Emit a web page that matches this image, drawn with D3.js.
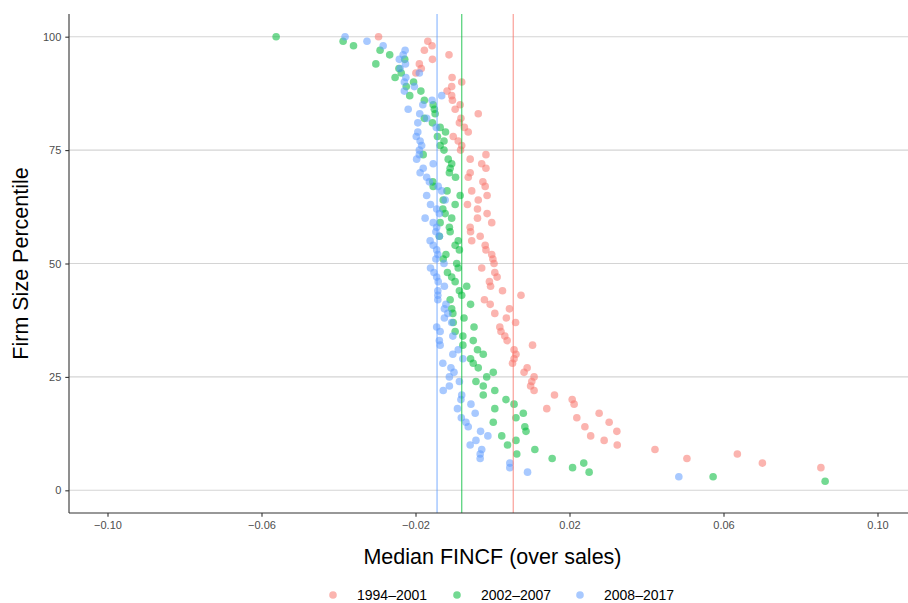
<!DOCTYPE html>
<html>
<head>
<meta charset="utf-8">
<script src="https://cdn.jsdelivr.net/npm/d3@7"></script>
<style>
  html, body { margin: 0; padding: 0; background: #fff; }
  svg { display: block; font-family: "Liberation Sans", Arial, Helvetica, sans-serif; }
</style>
</head>
<body>
<svg id="chart" width="908" height="603"></svg>
<script>
// Period labels and colours
const periods = ["1994–2001", "2002–2007", "2008–2017"];
const colors  = ["#F8766D", "#00BA38", "#619CFF"];

// Median FINCF (over sales) per firm-size percentile, listed from percentile 100 downward.
// Percentiles whose median falls outside the axis range are not listed.
const fincf1994 = [
  -0.0296, -0.0168, -0.0157, -0.0177, -0.0113, -0.0156, -0.0190, -0.0185, -0.0199, -0.0105,
  -0.0080, -0.0106, -0.0118, -0.0106, -0.0104, -0.0084, -0.0097, -0.0037, -0.0082, -0.0086,
  -0.0073, -0.0063, -0.0102, -0.0089, -0.0080, -0.0083, -0.0017, -0.0058, -0.0028, -0.0017,
  -0.0058, -0.0063, -0.0025, -0.0019, -0.0054, -0.0014, -0.0037, -0.0065, -0.0039, -0.0014,
  -0.0039, -0.0002, -0.0058, -0.0057, -0.0032, -0.0054, -0.0019, -0.0017, -0.0002,  0.0001,
   0.0004, -0.0028,  0.0006,  0.0012, -0.0008, -0.0005,  0.0026,  0.0074, -0.0021, -0.0006,
   0.0044,  0.0006,  0.0036,  0.0060,  0.0019,  0.0022,  0.0032,  0.0038,  0.0104,  0.0056,
   0.0061,  0.0056,  0.0052,  0.0090,  0.0082,  0.0108,  0.0102,  0.0099,  0.0108,  0.0161,
   0.0207,  0.0212,  0.0141,  0.0277,  0.0219,  0.0303,  0.0240,  0.0323,  0.0255,  0.0290,
   0.0324,  0.0422,  0.0636,  0.0505,  0.0701,  0.0853
];
const fincf2002 = [
  -0.0562, -0.0388, -0.0361, -0.0292, -0.0267, -0.0228, -0.0303, -0.0243, -0.0237, -0.0253,
  -0.0205, -0.0224, -0.0186, -0.0215, -0.0177, -0.0154, -0.0151, -0.0149, -0.0177, -0.0156,
  -0.0136, -0.0122, -0.0143, -0.0126, -0.0136, -0.0126, -0.0180, -0.0115, -0.0106, -0.0110,
  -0.0112, -0.0096, -0.0155, -0.0154, -0.0118, -0.0084, -0.0128, -0.0097, -0.0129, -0.0123,
  -0.0106, -0.0136, -0.0112, -0.0110, -0.0138, -0.0089, -0.0097, -0.0086, -0.0121, -0.0128,
  -0.0093, -0.0089, -0.0117, -0.0106, -0.0097, -0.0067, -0.0086, -0.0080, -0.0110, -0.0057,
  -0.0106, -0.0103, -0.0074, -0.0102, -0.0048, -0.0097, -0.0077, -0.0050, -0.0077, -0.0039,
  -0.0024, -0.0057, -0.0050, -0.0037,  0.0002, -0.0015, -0.0043, -0.0024,  0.0006, -0.0024,
   0.0035,  0.0056,  0.0006,  0.0080,  0.0061,  0.0002,  0.0084,  0.0087,  0.0024,  0.0061,
   0.0039,  0.0110,  0.0063,  0.0155,  0.0237,  0.0208,  0.0251,  0.0573,  0.0864
];
const fincf2008 = [
  -0.0383, -0.0326, -0.0284, -0.0227, -0.0232, -0.0242, -0.0226, -0.0240, -0.0190, -0.0225,
  -0.0229, -0.0203, -0.0229, -0.0132, -0.0157, -0.0181, -0.0219, -0.0189, -0.0171, -0.0194,
  -0.0146, -0.0194, -0.0198, -0.0188, -0.0184, -0.0190, -0.0190, -0.0197, -0.0154, -0.0180,
  -0.0188, -0.0171, -0.0164, -0.0141, -0.0132, -0.0171, -0.0123, -0.0161, -0.0145, -0.0138,
  -0.0175, -0.0154, -0.0145, -0.0147, -0.0138, -0.0162, -0.0154, -0.0145, -0.0142, -0.0147,
  -0.0126, -0.0161, -0.0152, -0.0145, -0.0141, -0.0125, -0.0142, -0.0142, -0.0142, -0.0121,
  -0.0125, -0.0116, -0.0125, -0.0106, -0.0145, -0.0136, -0.0103, -0.0138, -0.0136, -0.0089,
  -0.0103, -0.0077, -0.0129, -0.0108, -0.0100, -0.0112, -0.0086, -0.0112, -0.0128, -0.0080,
  -0.0082, -0.0056, -0.0091, -0.0045, -0.0081, -0.0069, -0.0063, -0.0031, -0.0012, -0.0043,
  -0.0058, -0.0028, -0.0032, -0.0032,  0.0045,  0.0045,  0.0091,  0.0484
];
const seriesValues = [fincf1994, fincf2002, fincf2008];

// Period-wide reference levels drawn as vertical lines
const refLines = [0.0054, -0.0080, -0.0144];

// Axis ticks
const xTicks = [-0.10, -0.06, -0.02, 0.02, 0.06, 0.10];
const yTicks = [0, 25, 50, 75, 100];

const svg = d3.select("#chart");
const panel = { left: 69, top: 14, right: 916, bottom: 513 };

const x = d3.scaleLinear().domain([-0.11, 0.11]).range([panel.left, panel.right]);
const y = d3.scaleLinear().domain([-5, 105]).range([panel.bottom, panel.top]);

// Clip the plotting area to the panel
svg.append("defs").append("clipPath").attr("id", "panel-clip")
  .append("rect")
  .attr("x", panel.left).attr("y", panel.top)
  .attr("width", panel.right - panel.left).attr("height", panel.bottom - panel.top);

// Horizontal grid lines
svg.append("g")
  .selectAll("line").data(yTicks).join("line")
  .attr("x1", panel.left).attr("x2", panel.right)
  .attr("y1", d => y(d)).attr("y2", d => y(d))
  .attr("stroke", "#d4d4d4").attr("stroke-width", 1.1);

// Build points from the value arrays
const points = [];
seriesValues.forEach((vals, s) => {
  vals.forEach((v, i) => points.push({ s, pct: 100 - i, v }));
});

const plot = svg.append("g").attr("clip-path", "url(#panel-clip)");

plot.append("g")
  .selectAll("circle").data(points).join("circle")
  .attr("cx", d => x(d.v))
  .attr("cy", d => y(d.pct))
  .attr("r", 3.8)
  .attr("fill", d => colors[d.s])
  .attr("fill-opacity", 0.55);

plot.append("g")
  .selectAll("line").data(refLines).join("line")
  .attr("x1", d => x(d)).attr("x2", d => x(d))
  .attr("y1", panel.top).attr("y2", panel.bottom)
  .attr("stroke", (d, i) => colors[i])
  .attr("stroke-opacity", 0.6)
  .attr("stroke-width", 1.4);

// Axes
const fmtX = d => d3.format(".2f")(d).replace("-", "\u2212");
const xAxis = d3.axisBottom(x).tickValues(xTicks).tickFormat(fmtX).tickSize(3.7).tickPadding(4);
const yAxis = d3.axisLeft(y).tickValues(yTicks).tickSize(3.7).tickPadding(4);

const gx = svg.append("g").attr("transform", `translate(0,${panel.bottom})`).call(xAxis);
const gy = svg.append("g").attr("transform", `translate(${panel.left},0)`).call(yAxis);

[gx, gy].forEach(g => {
  g.select(".domain").attr("stroke", "#333").attr("stroke-width", 1.1);
  g.selectAll(".tick line").attr("stroke", "#333").attr("stroke-width", 1.1);
  g.selectAll(".tick text").attr("fill", "#4d4d4d").attr("font-size", 11)
    .attr("font-family", "'Liberation Sans', Arial, sans-serif");
});
gx.select(".domain").attr("d", `M${panel.left},0H${panel.right}`);
gy.select(".domain").attr("d", `M0,${panel.bottom}V${panel.top}`);

// Axis titles
svg.append("text")
  .attr("x", (panel.left + panel.right) / 2).attr("y", 564)
  .attr("text-anchor", "middle").attr("font-size", 21.5).attr("fill", "#000")
  .text("Median FINCF (over sales)");

svg.append("text")
  .attr("transform", `translate(28,${(panel.top + panel.bottom) / 2}) rotate(-90)`)
  .attr("text-anchor", "middle").attr("font-size", 21.5).attr("fill", "#000")
  .text("Firm Size Percentile");

// Legend
const legendX = [333, 457, 580];
const legend = svg.append("g").selectAll("g").data(periods).join("g")
  .attr("transform", (d, i) => `translate(${legendX[i]},595)`);
legend.append("circle").attr("r", 3.8)
  .attr("fill", (d, i) => colors[i]).attr("fill-opacity", 0.55);
legend.append("text").attr("x", 24).attr("y", 4.5)
  .attr("font-size", 14).attr("fill", "#000").text(d => d);
</script>
</body>
</html>
